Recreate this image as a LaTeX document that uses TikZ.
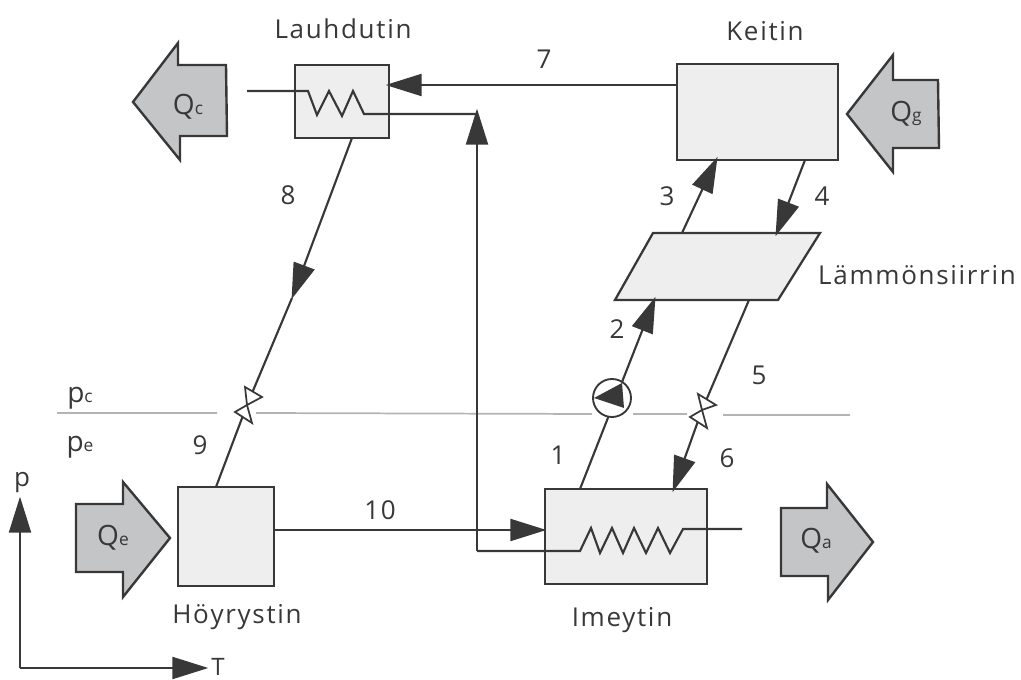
\documentclass[tikz,border=0pt]{standalone}
\usepackage{fontspec}
\setmainfont[LetterSpace=6.5]{Open Sans}
\usetikzlibrary{arrows.meta}
\definecolor{ink}{HTML}{383838}
\definecolor{blockgrey}{HTML}{C3C5C7}
\definecolor{boxgrey}{HTML}{EEEEEE}
\definecolor{levelgrey}{HTML}{B4B4B4}
\newcommand{\Qsub}[2]{#1{\fontsize{13pt}{14pt}\selectfont #2}}
\tikzset{
  x=0.75pt,y=-0.75pt,
  unit/.style={draw=ink,fill=boxgrey,line width=1.7pt,inner sep=0pt},
  flow/.style={draw=ink,line width=1.6pt},
  flowhead/.style={flow,-{Triangle[length=27pt,width=16.5pt,color=ink]},shorten >=-1pt},
  block/.style={draw=ink,fill=blockgrey,line width=1.8pt,line join=miter},
  level/.style={draw=levelgrey,line width=1.3pt},
  valvepart/.style={draw=ink,fill=white,line width=1.3pt,line join=miter},
  lbl/.style={font=\fontsize{19.5pt}{22pt}\selectfont,text=ink,inner sep=0pt},
  qlbl/.style={font=\fontsize{21pt}{24pt}\selectfont,text=ink,inner sep=0pt},
}
\begin{document}
\begin{tikzpicture}
\useasboundingbox (0,0) rectangle (1021,680);
% pressure levels
\coordinate (lA) at (57,413); \coordinate (lB) at (217,413);
\coordinate (lC) at (256,413); \coordinate (lD) at (592,414);
\coordinate (lE) at (633,414); \coordinate (lF) at (687,414);
\coordinate (lG) at (723,415); \coordinate (lH) at (850,415);
\draw[level] (lA)--(lB) (lC)--(lD) (lE)--(lF) (lG)--(lH);
% units
\node[unit,minimum width=70.5pt,minimum height=54.75pt] (cond) at (342,101.5) {};
\node[unit,minimum width=120.75pt,minimum height=72pt] (gen) at (757.5,112) {};
\node[unit,minimum width=121.5pt,minimum height=71.25pt] (abs) at (626,536.5) {};
\node[unit,minimum width=72pt,minimum height=74.25pt] (evap) at (226,536.5) {};
\draw[unit] (653,233) coordinate (hxA) -- (820,233) coordinate (hxB) -- (778,300) coordinate (hxC) -- (615,300) coordinate (hxD) -- cycle;
% free end points on unit edges
\coordinate (c8) at (352,138); \coordinate (e9) at (216,487);
\coordinate (a1) at (580,489); \coordinate (h2) at (655,298);
\coordinate (h3) at (682,233); \coordinate (g3) at (717,158);
\coordinate (g4) at (805,160); \coordinate (h4) at (776,235);
\coordinate (h5) at (749,300); \coordinate (a6) at (673,491);
\coordinate (v1) at (247,405); \coordinate (v2) at (702,410);
\coordinate (riser) at (477,110);
\coordinate (g7) at (677,85); \coordinate (c7) at (387,85);
\coordinate (e10) at (274,530); \coordinate (a10) at (545,530);
\coordinate (tip8) at (292,298);
% connectors
\draw[flow] (tip8) -- (v1) -- (e9);
\draw[flowhead] (c8) -- (tip8);
\draw[flowhead] (a1) -- (h2);
\draw[flowhead] (h3) -- (g3);
\draw[flowhead] (g4) -- (h4);
\draw[flow] (h5) -- (v2);
\draw[flowhead] (v2) -- (a6);
\draw[flowhead] (g7) -- (c7);
\draw[flowhead] (e10) -- (a10);
% coils and return line
\coordinate (coilA) at (247,91);
\coordinate (coilB) at (742,529);
\draw[flow,line join=miter] (coilA) -- (308,91) -- (317,115) -- (329,91) -- (342,116) -- (353,91) -- (364,114) -- (477,114);
\draw[flowhead] (477,551) -- (riser);
\draw[flow,line join=miter] (477,551) -- (580,551) -- (591,528) -- (600,553) -- (612,528) -- (623,553) -- (634,528) -- (646,553) -- (658,528) -- (670,553) -- (683,529) -- (coilB);
% valves
\draw[valvepart] (v1) -- (245,387) -- (262,397) -- cycle;
\draw[valvepart] (v1) -- (235,412) -- (252,423) -- cycle;
\draw[valvepart] (v2) -- (698,394) -- (716,405) -- cycle;
\draw[valvepart] (v2) -- (690,417) -- (707,428) -- cycle;
% pump
\node[draw=ink,fill=white,line width=1.4pt,circle,minimum size=28.5pt,inner sep=0pt] (pump) at (612,398) {};
\fill[ink] (594,398) -- (622,383) -- (624,408) -- cycle;
% heat flows
\draw[block] (133,102) -- (178,43) -- (178,65) -- (226,65) -- (227,136) -- (180,136) -- (180,160) -- cycle;
\draw[block] (847,114) -- (893,55) -- (893,80) -- (938,80) -- (939,148) -- (893,148) -- (893,172) -- cycle;
\draw[block] (76,504) -- (123,504) -- (123,482) -- (170,538) -- (123,597) -- (123,572) -- (76,572) -- cycle;
\draw[block] (781,508) -- (827,508) -- (827,484) -- (873,542) -- (828,600) -- (828,576) -- (781,576) -- cycle;
\node[qlbl] (qc) at (188,107) {\Qsub{Q}{c}};
\node[qlbl] (qg) at (906,114) {\Qsub{Q}{g}};
\node[qlbl] (qe) at (113,538) {\Qsub{Q}{e}};
\node[qlbl] (qa) at (816,541) {\Qsub{Q}{a}};
\node[qlbl] (pc) at (80,398) {\Qsub{p}{c}};
\node[qlbl] (pe) at (80,447) {\Qsub{p}{e}};
% axes
\coordinate (o) at (20,668); \coordinate (py) at (20,498); \coordinate (tx) at (207,668);
\draw[flowhead] (o) -- (py);
\draw[flowhead] (o) -- (tx);
\node[lbl] (axp) at (22,483) {p};
\node[lbl,font=\fontsize{18pt}{20pt}\selectfont] (axT) at (218,667) {T};
% titles
\node[lbl] (tCond) at (343,29) {Lauhdutin};
\node[lbl] (tGen) at (765,31) {Keitin};
\node[lbl] (tHx) at (917,275) {Lämmönsiirrin};
\node[lbl] (tEvap) at (237,617) {Höyrystin};
\node[lbl] (tAbs) at (622,620) {Imeytin};
\node[lbl] (n7) at (544,59) {7};
\node[lbl] (n8) at (288,195) {8};
\node[lbl] (n3) at (667,196) {3};
\node[lbl] (n4) at (822,196) {4};
\node[lbl] (n2) at (617,329) {2};
\node[lbl] (n5) at (759,375) {5};
\node[lbl] (n1) at (558,455) {1};
\node[lbl] (n6) at (727,458) {6};
\node[lbl] (n9) at (200,445) {9};
\node[lbl] (n10) at (380,510) {10};
\end{tikzpicture}
\end{document}
